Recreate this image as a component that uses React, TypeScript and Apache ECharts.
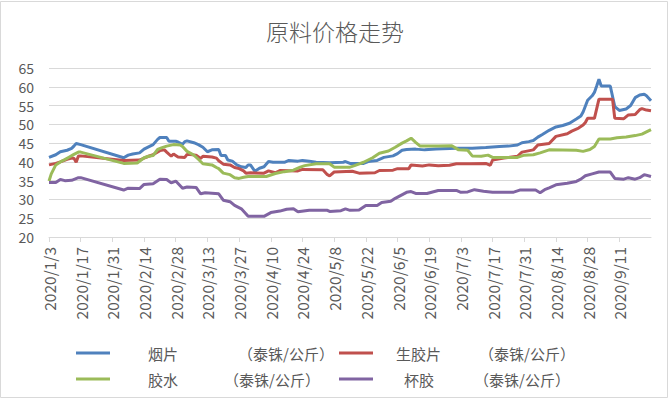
import React, { useEffect, useRef } from "react";
import * as echarts from "echarts";

// x values are day offsets from 2020/1/3
const START = { y: 2020, m: 0, d: 3 };
const X_MAX = 266;
const X_INTERVAL = 14;
const Y_MIN = 20;
const Y_MAX = 65;
const Y_INTERVAL = 5;

const seriesNames = ["烟片", "生胶片", "胶水", "杯胶"];
const unitLabel = "（泰铢/公斤）";

const smokedSheet = [
  [0, 41.2], [3, 41.9], [5, 42.7], [8, 43.1], [10, 43.6], [11, 44.2], [12, 44.9], [14, 44.6],
  [33, 41.1], [35, 41.8], [37, 42.1], [40, 42.4], [42, 43.4], [44, 44.0], [46, 44.6], [48, 46.0],
  [49, 46.5], [52, 46.5], [53, 45.5], [56, 45.5], [57, 45.3], [59, 44.7], [60, 45.4], [61, 45.6],
  [64, 45.1], [66, 44.6], [68, 43.9], [70, 42.7], [72, 43.2], [75, 43.3], [76, 41.7], [78, 41.7],
  [79, 40.5], [81, 40.2], [83, 39.2], [85, 38.7], [87, 38.5], [88, 39.2], [89, 39.2], [91, 37.5],
  [93, 38.3], [95, 38.7], [97, 40.1], [99, 39.9], [104, 39.9], [106, 40.4], [110, 40.2], [112, 40.4],
  [115, 40.2], [118, 39.9], [124, 39.8], [130, 39.9], [131, 40.1], [133, 39.6], [139, 39.6], [141, 40.1],
  [145, 40.4], [148, 41.2], [152, 41.6], [154, 42.2], [156, 43.1], [158, 43.3], [162, 43.4], [166, 43.2],
  [171, 43.4], [180, 43.6], [187, 43.6], [193, 43.8], [199, 44.1], [203, 44.2], [207, 44.5], [209, 45.1],
  [212, 45.4], [214, 45.7], [216, 46.6], [218, 47.3], [221, 48.4], [224, 49.3], [227, 49.7], [230, 50.3],
  [233, 51.4], [235, 52.2], [236, 53.3], [238, 56.4], [240, 57.6], [241, 58.5], [242, 60.2], [243, 62.0],
  [244, 60.2], [248, 60.2], [250, 54.7], [252, 53.7], [255, 54.1], [257, 55.0], [259, 57.1], [261, 57.8],
  [263, 58.0], [264, 57.6], [266, 56.3],
];

const rawSheet = [
  [0, 39.2], [3, 39.6], [5, 40.0], [8, 40.7], [10, 41.0], [11, 41.0], [12, 39.9], [13, 41.6], [14, 41.6],
  [33, 40.4], [40, 40.5], [42, 41.0], [44, 41.5], [46, 41.9], [49, 43.0], [51, 43.2], [52, 42.6],
  [54, 41.5], [55, 42.1], [57, 41.3], [60, 41.2], [61, 42.0], [65, 41.8], [67, 40.9], [68, 41.5],
  [72, 41.3], [74, 41.0], [75, 40.3], [77, 39.4], [80, 39.2], [82, 38.5], [84, 38.2], [86, 37.6],
  [87, 37.0], [89, 37.1], [95, 37.0], [97, 37.6], [100, 37.1], [102, 37.7], [110, 37.6], [112, 38.0],
  [121, 37.9], [123, 36.6], [124, 36.3], [126, 37.3], [134, 37.5], [137, 37.0], [144, 37.1], [146, 37.7],
  [152, 37.8], [154, 38.2], [159, 38.2], [160, 39.2], [165, 38.9], [168, 39.2], [172, 39.0], [177, 39.1],
  [180, 39.5], [186, 39.5], [193, 39.6], [195, 39.1], [196, 40.5], [201, 41.0], [207, 41.5], [209, 42.6],
  [214, 43.2], [216, 44.5], [221, 44.9], [224, 46.8], [229, 47.5], [231, 48.2], [234, 49.0], [236, 49.8],
  [237, 50.5], [238, 51.6], [241, 51.6], [243, 56.7], [249, 56.7], [250, 51.6], [254, 51.5], [256, 52.5],
  [259, 52.6], [261, 53.9], [262, 54.2], [264, 53.8], [266, 53.6],
];

const latex = [
  [0, 34.9], [1, 36.8], [3, 39.2], [5, 40.0], [7, 40.6], [9, 41.3], [11, 42.0], [13, 42.6], [14, 42.6],
  [33, 39.6], [39, 39.7], [42, 41.1], [44, 41.5], [46, 41.7], [48, 43.3], [50, 43.8], [52, 44.2],
  [55, 44.6], [58, 44.5], [59, 44.1], [61, 42.8], [64, 41.8], [66, 40.7], [68, 39.5], [72, 39.2],
  [74, 38.5], [75, 38.2], [77, 37.0], [80, 36.6], [82, 35.8], [84, 35.6], [86, 35.9], [88, 36.1],
  [96, 36.1], [98, 36.5], [100, 36.9], [104, 37.4], [108, 37.8], [111, 38.6], [113, 39.0], [118, 39.5],
  [124, 39.5], [126, 38.6], [133, 38.6], [135, 39.0], [139, 39.9], [143, 41.1], [146, 42.3], [150, 42.9],
  [153, 43.9], [156, 45.0], [158, 45.6], [160, 46.3], [162, 45.2], [164, 44.2], [172, 44.2], [178, 44.3],
  [181, 43.2], [185, 43.1], [187, 41.6], [191, 41.5], [194, 41.8], [196, 41.2], [207, 41.2], [210, 41.8],
  [214, 41.9], [217, 42.4], [221, 43.2], [233, 43.1], [236, 42.8], [239, 43.3], [241, 44.1], [243, 46.1],
  [248, 46.1], [251, 46.4], [255, 46.6], [259, 47.0], [262, 47.4], [264, 48.0], [266, 48.6],
];

const cupLump = [
  [0, 34.5], [3, 34.5], [5, 35.3], [7, 35.0], [10, 35.1], [13, 35.8], [14, 35.8],
  [33, 32.5], [35, 33.0], [40, 32.9], [42, 34.0], [46, 34.2], [49, 35.4], [52, 35.3], [54, 34.4],
  [56, 34.9], [59, 33.0], [61, 33.3], [65, 33.2], [67, 31.5], [69, 31.8], [75, 31.5], [77, 29.8],
  [80, 29.4], [82, 28.4], [85, 27.5], [87, 26.2], [88, 25.5], [95, 25.5], [98, 26.5], [102, 26.9],
  [105, 27.4], [108, 27.5], [110, 26.7], [115, 27.1], [123, 27.1], [124, 26.8], [129, 27.0], [131, 27.5],
  [133, 27.1], [137, 27.2], [140, 28.4], [145, 28.4], [147, 29.2], [151, 29.5], [153, 30.3], [158, 31.9],
  [160, 32.1], [162, 31.6], [167, 31.6], [172, 32.4], [180, 32.4], [182, 31.9], [185, 32.0], [188, 32.6],
  [192, 32.2], [196, 31.9], [205, 31.9], [208, 32.5], [215, 32.5], [217, 31.8], [219, 32.6], [221, 33.1],
  [224, 33.9], [229, 34.3], [233, 34.8], [235, 35.4], [237, 36.3], [240, 36.8], [243, 37.3], [248, 37.3],
  [250, 35.6], [254, 35.4], [256, 35.8], [259, 35.4], [261, 35.8], [263, 36.6], [266, 36.1],
];

const seriesData = [smokedSheet, rawSheet, latex, cupLump];
const colors = ["#4F81BD", "#C0504D", "#9BBB59", "#8064A2"];

const FONT = "'Noto Sans CJK SC', 'Noto Sans', sans-serif";
const GRAY = "#595959";

function dayLabel(v: number): string {
  const dt = new Date(START.y, START.m, START.d + Math.round(v));
  return `${dt.getFullYear()}/${dt.getMonth() + 1}/${dt.getDate()}`;
}

// legend layout: [left, top, namePadLeft, unitPadLeft]
const legendLayout = [
  [76, 344, 33, 60],
  [339, 344, 18, 38],
  [76, 370, 33, 46],
  [339, 370, 26, 40],
];

export default function App() {
  const ref = useRef<HTMLDivElement>(null);
  useEffect(() => {
    document.body.style.margin = "0";
    if (!ref.current) return;
    const chart = echarts.init(ref.current, null, { renderer: "svg" });
    const legends = seriesNames.map((name, i) => {
      const [left, top, p1, p2] = legendLayout[i];
      return {
        data: [name],
        left,
        top,
        padding: 0,
        icon: "rect",
        itemWidth: 34,
        itemHeight: 3,
        itemGap: 0,
        selectedMode: false,
        formatter: (n: string) => `{n|${n}}{u|${unitLabel}}`,
        textStyle: {
          fontFamily: FONT,
          fontSize: 15,
          color: GRAY,
          lineHeight: 18,
          rich: {
            n: { fontFamily: FONT, fontSize: 15, color: GRAY, padding: [0, 0, 0, p1], lineHeight: 18 },
            u: { fontFamily: FONT, fontSize: 15, color: GRAY, padding: [0, 0, 0, p2], lineHeight: 18 },
          },
        },
      };
    });
    chart.setOption({
      animation: false,
      backgroundColor: "#ffffff",
      title: {
        text: "原料价格走势",
        left: "center",
        top: 19,
        padding: 0,
        textStyle: { fontFamily: FONT, fontSize: 23, fontWeight: 300, color: GRAY },
      },
      legend: legends,
      grid: { left: 49, right: 19, top: 68, bottom: 162 },
      xAxis: {
        type: "value",
        min: 0,
        max: X_MAX,
        interval: X_INTERVAL,
        splitLine: { show: false },
        axisLine: { show: true, lineStyle: { color: "#d9d9d9", width: 1 } },
        axisTick: { show: true, length: 5, lineStyle: { color: "#d9d9d9" } },
        axisLabel: {
          rotate: 90,
          margin: 10,
          showMaxLabel: false,
          color: GRAY,
          fontFamily: FONT,
          fontSize: 15.5,
          formatter: (v: number) => dayLabel(v),
        },
      },
      yAxis: {
        type: "value",
        min: Y_MIN,
        max: Y_MAX,
        interval: Y_INTERVAL,
        axisLine: { show: false },
        axisTick: { show: false },
        splitLine: { lineStyle: { color: "#d9d9d9", width: 1 } },
        axisLabel: { color: GRAY, fontFamily: FONT, fontSize: 14, lineHeight: 14, margin: 15 },
      },
      series: seriesNames.map((name, i) => ({
        name,
        type: "line",
        data: seriesData[i],
        symbol: "none",
        showSymbol: false,
        lineStyle: { width: 3, color: colors[i] },
        itemStyle: { color: colors[i] },
      })),
      graphic: [
        {
          type: "rect",
          silent: true,
          shape: { x: 0.5, y: 1.5, width: 667, height: 396 },
          style: { fill: "none", stroke: "#d9d9d9", lineWidth: 1 },
        },
      ],
    });
    return () => chart.dispose();
  }, []);
  return <div ref={ref} style={{ width: 670, height: 399 }} />;
}
